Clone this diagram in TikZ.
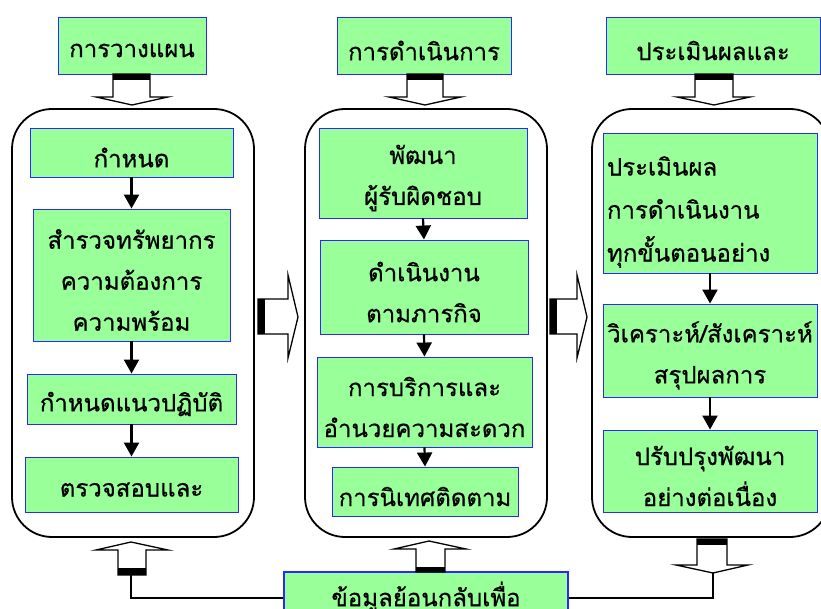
\documentclass[tikz,border=0pt]{standalone}
\usepackage{fontspec}
\newfontfamily\thai[Script=Thai,FakeBold=0.6]{Loma}
\usetikzlibrary{arrows.meta}
\definecolor{boxgreen}{RGB}{153,255,153}
\definecolor{boxblue}{RGB}{40,40,255}
\begin{document}
\begin{tikzpicture}[x=1pt,y=-1pt,
  gbox/.style={draw=boxblue, fill=boxgreen, line width=0.9pt, inner sep=0pt},
  gtext/.style={font=\thai\fontsize{24}{41}\selectfont, align=center, inner sep=0pt, yshift=-5pt},
  container/.style={draw=black, line width=1.8pt, rounded corners=40pt, inner sep=0pt},
  conn/.style={-{Triangle[length=14pt,width=15pt]}, line width=2.2pt},
  barrow/.style={draw=black, fill=white, line width=1.3pt, line join=miter},
  barbar/.style={fill=black},
  fbline/.style={draw=black, line width=2pt}]
\useasboundingbox (0,0) rectangle (821,609);

% containers
\node[container, minimum width=242pt, minimum height=428pt] (cl) at (133,323) {};
\node[container, minimum width=242pt, minimum height=428pt] (cm) at (426,323) {};
\node[container, minimum width=238pt, minimum height=428pt] (cr) at (711,323) {};

% top boxes
\node[gbox, minimum width=148pt, minimum height=57pt] (t1) at (132,45.5) {};
\node[gtext] (t1t) at (t1) {การวางแผน};
\node[gbox, minimum width=174pt, minimum height=57pt] (t2) at (424,45.5) {};
\node[gtext] (t2t) at (t2) {การดำเนินการ};
\node[gbox, minimum width=214pt, minimum height=57pt] (t3) at (713,45.5) {};
\node[gtext] (t3t) at (t3) {ประเมินผลและ};

% left column
\node[gbox, minimum width=203pt, minimum height=49pt] (l1) at (131.5,152.5) {};
\node[gtext] (l1t) at (l1) {กำหนด};
\node[gbox, minimum width=197pt, minimum height=132pt] (l2) at (131.5,275) {};
\node[gtext] (l2t) at (l2) {สำรวจทรัพยากร\\ความต้องการ\\ความพร้อม};
\node[gbox, minimum width=209pt, minimum height=50pt] (l3) at (131.5,399) {};
\node[gtext] (l3t) at (l3) {กำหนดแนวปฏิบัติ};
\node[gbox, minimum width=213pt, minimum height=55pt] (l4) at (131.5,484.5) {};
\node[gtext] (l4t) at (l4) {ตรวจสอบและ};

% middle column
\node[gbox, minimum width=208pt, minimum height=90pt] (m1) at (423,173) {};
\node[gtext] (m1t) at (m1) {พัฒนา\\ผู้รับผิดชอบ};
\node[gbox, minimum width=208pt, minimum height=94pt] (m2) at (424,287) {};
\node[gtext] (m2t) at (m2) {ดำเนินงาน\\ตามภารกิจ};
\node[gbox, minimum width=215pt, minimum height=90pt] (m3) at (424.5,402) {};
\node[gtext] (m3t) at (m3) {การบริการและ\\อำนวยความสะดวก};
\node[gbox, minimum width=186pt, minimum height=49pt] (m4) at (425,491.5) {};
\node[gtext] (m4t) at (m4) {การนิเทศติดตาม};

% right column
\node[gbox, minimum width=214pt, minimum height=140pt] (r1) at (710,203) {};
\node[gtext, font=\thai\fontsize{24}{43}\selectfont, align=left, text width=206pt, yshift=-4pt] (r1t) at (r1) {ประเมินผล\\การดำเนินงาน\\ทุกขั้นตอนอย่าง};
\node[gbox, minimum width=214pt, minimum height=93pt] (r2) at (710,350.5) {};
\node[gtext] (r2t) at (r2) {วิเคราะห์/สังเคราะห์\\สรุปผลการ};
\node[gbox, minimum width=214pt, minimum height=82pt] (r3) at (710,471) {};
\node[gtext] (r3t) at (r3) {ปรับปรุงพัฒนา\\อย่างต่อเนื่อง};

% feedback box
\node[gbox, line width=2.2pt, minimum width=284pt, minimum height=52pt] (fb) at (426,598) {};
\node[gtext, yshift=6pt] (fbt) at (fb) {ข้อมูลย้อนกลับเพื่อ};

% inner connectors
\draw[conn] (l1.south) -- (l2.north);
\draw[conn] (l2.south) -- (l3.north);
\draw[conn] (l3.south) -- (l4.north);
\draw[conn] (m1.south) -- (m2.north);
\draw[conn] (m2.south) -- (m3.north);
\draw[conn] (m3.south) -- (m4.north);
\draw[conn] (r1.south) -- (r2.north);
\draw[conn] (r2.south) -- (r3.north);

% top block arrows (down)
\draw[barrow] (113,74) -- (113,97) -- (96,97) -- (132,105) -- (168,97) -- (150,97) -- (150,74) -- cycle;
\fill[barbar] (113,74) rectangle (150,80);
\draw[barrow] (407,74) -- (407,97) -- (389,97) -- (425,105) -- (461,97) -- (443,97) -- (443,74) -- cycle;
\fill[barbar] (407,74) rectangle (443,80);
\draw[barrow] (695,74) -- (695,97) -- (677,97) -- (714,105) -- (750,97) -- (733,97) -- (733,74) -- cycle;
\fill[barbar] (695,74) rectangle (733,80);

% side block arrows (right)
\draw[barrow] (258,299) -- (288,299) -- (288,275) -- (298,317) -- (288,358) -- (288,334) -- (258,334) -- cycle;
\fill[barbar] (258,299) rectangle (265,334);
\draw[barrow] (550,299) -- (577,299) -- (577,275) -- (587,317) -- (577,358) -- (577,334) -- (550,334) -- cycle;
\fill[barbar] (550,299) rectangle (557,334);

% bottom block arrows
\draw[barrow] (118,575) -- (118,550) -- (96,550) -- (131,542) -- (168,550) -- (146,550) -- (146,575) -- cycle;
\fill[barbar] (118,568) rectangle (146,575);
\draw[barrow] (416,572) -- (416,549) -- (394,549) -- (429,541) -- (466,549) -- (445,549) -- (445,572) -- cycle;
\fill[barbar] (416,567) rectangle (445,572);
\draw[barrow] (697,539) -- (697,565) -- (676,565) -- (713,573) -- (748,565) -- (727,565) -- (727,539) -- cycle;
\fill[barbar] (697,539) rectangle (727,545);

% feedback lines
\coordinate (u1) at (131,575);
\coordinate (d3) at (713,573);
\draw[fbline] (u1) |- (fb.west);
\draw[fbline] (d3) |- (fb.east);
\end{tikzpicture}
\end{document}
